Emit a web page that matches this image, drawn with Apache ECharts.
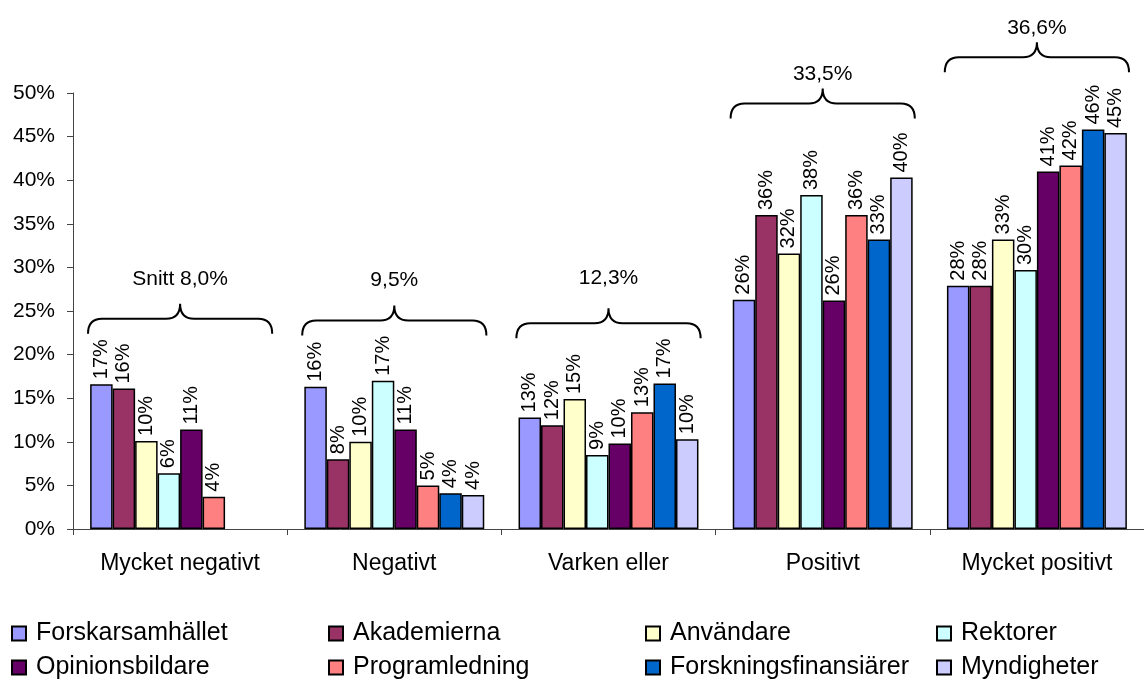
<!DOCTYPE html>
<html>
<head>
<meta charset="utf-8">
<script src="https://cdn.jsdelivr.net/npm/echarts@6/dist/echarts.min.js"></script>
<style>html,body{margin:0;padding:0;background:#fff}#c{width:1144px;height:686px}</style>
</head>
<body>
<div id="c"></div>
<script>
var categories = ['Mycket negativt', 'Negativt', 'Varken eller', 'Positivt', 'Mycket positivt'];
var seriesNames = ['Forskarsamhället', 'Akademierna', 'Användare', 'Rektorer', 'Opinionsbildare', 'Programledning', 'Forskningsfinansiärer', 'Myndigheter'];
var forskarsamhallet = [16.6, 16.3, 12.8, 26.3, 27.9];
var akademierna = [16.1, 8.0, 11.9, 36.0, 27.9];
var anvandare = [10.1, 10.0, 14.9, 31.6, 33.2];
var rektorer = [6.4, 17.0, 8.5, 38.3, 29.7];
var opinionsbildare = [11.4, 11.4, 9.8, 26.2, 41.0];
var programledning = [3.7, 5.0, 13.4, 36.0, 41.7];
var forskningsfinansiarer = [null, 4.1, 16.7, 33.2, 45.8];
var myndigheter = [null, 3.9, 10.3, 40.3, 45.4];
var braceLabels = ['Snitt 8,0%', '9,5%', '12,3%', '33,5%', '36,6%'];
var braceLevels = [24.1, 23.9, 23.6, 48.8, 54.1];
var braceTextLevels = [28.6, 28.5, 28.8, 52.2, 57.4];
var yTicks = { min: 0, max: 50, interval: 5 };

var seriesValues = [forskarsamhallet, akademierna, anvandare, rektorer, opinionsbildare, programledning, forskningsfinansiarer, myndigheter];
var colors = ['#9999FF', '#993366', '#FFFFCC', '#CCFFFF', '#660066', '#FF8080', '#0066CC', '#CCCCFF'];
var FONT = 'Liberation Sans, Arial, sans-serif';

var chart = echarts.init(document.getElementById('c'));

var series = seriesNames.map(function (n, i) {
  return {
    name: n,
    type: 'bar',
    data: seriesValues[i],
    barGap: '0%',
    barCategoryGap: '16%',
    itemStyle: { color: colors[i], borderColor: '#000', borderWidth: 1.5 },
    label: {
      show: true,
      position: 'top',
      rotate: 90,
      align: 'left',
      verticalAlign: 'middle',
      distance: 5,
      fontSize: 20,
      fontFamily: FONT,
      color: '#000',
      formatter: function (p) { return p.value == null ? '' : Math.round(p.value) + '%'; }
    }
  };
});

series.push({
  type: 'custom',
  name: 'braces',
  clip: false,
  silent: true,
  data: braceLevels.map(function (v, i) { return [i, v, braceTextLevels[i]]; }),
  renderItem: function (params, api) {
    var idx = api.value(0);
    var p = api.coord([idx, api.value(1)]);
    var t = api.coord([idx, api.value(2)]);
    var band = api.size([1, 0])[0];
    var hw = band * 0.43;
    var cx = p[0], yL = p[1];
    var x0 = cx - hw, x1 = cx + hw;
    var yE = yL + 15, yP = yL - 15, r = 14;
    var d = 'M' + x0 + ' ' + yE +
      ' Q' + x0 + ' ' + yL + ' ' + (x0 + r) + ' ' + yL +
      ' L' + (cx - r) + ' ' + yL +
      ' Q' + cx + ' ' + yL + ' ' + cx + ' ' + yP +
      ' Q' + cx + ' ' + yL + ' ' + (cx + r) + ' ' + yL +
      ' L' + (x1 - r) + ' ' + yL +
      ' Q' + x1 + ' ' + yL + ' ' + x1 + ' ' + yE;
    return {
      type: 'group',
      children: [
        { type: 'path', shape: { pathData: d }, style: { stroke: '#000', lineWidth: 2, fill: null } },
        { type: 'text', style: { text: braceLabels[idx], x: t[0], y: t[1], fill: '#000', font: '21px ' + FONT, align: 'center', verticalAlign: 'middle' } }
      ]
    };
  }
});

function col(left, names) {
  return {
    orient: 'vertical',
    left: left,
    top: 616,
    itemGap: 9,
    itemWidth: 14,
    itemHeight: 14,
    icon: 'rect',
    data: names,
    textStyle: { fontSize: 25, fontFamily: FONT, color: '#000', padding: [0, 0, 0, 5] }
  };
}

chart.setOption({
  animation: false,
  backgroundColor: '#fff',
  textStyle: { fontFamily: FONT },
  grid: { left: 73, right: -9, top: 93, bottom: 157, containLabel: false },
  legend: [
    col(6, [seriesNames[0], seriesNames[4]]),
    col(323, [seriesNames[1], seriesNames[5]]),
    col(640, [seriesNames[2], seriesNames[6]]),
    col(931, [seriesNames[3], seriesNames[7]])
  ],
  xAxis: {
    type: 'category',
    data: categories,
    axisLine: { lineStyle: { color: '#444', width: 1 } },
    axisTick: { show: true, interval: 0, length: 6, lineStyle: { color: '#444' } },
    axisLabel: { fontSize: 23, fontFamily: FONT, color: '#000', margin: 23, interval: 0 },
    splitLine: { show: false }
  },
  yAxis: {
    type: 'value',
    min: yTicks.min,
    max: yTicks.max,
    interval: yTicks.interval,
    axisLine: { show: true, lineStyle: { color: '#444', width: 1 } },
    axisTick: { show: true, length: 6, lineStyle: { color: '#444' } },
    axisLabel: { fontSize: 21, fontFamily: FONT, color: '#000', margin: 18, formatter: '{value}%' },
    splitLine: { show: false }
  },
  series: series
});
</script>
</body>
</html>
